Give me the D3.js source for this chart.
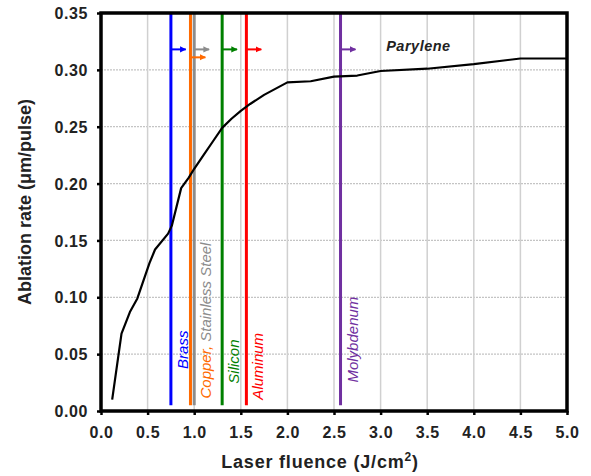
<!DOCTYPE html>
<html>
<head>
  <meta charset="utf-8">
  <title>Ablation rate vs laser fluence</title>
  <script src="https://d3js.org/d3.v7.min.js"></script>
  <style>
    body { margin: 0; background: #fff; font-family: "Liberation Sans", Arial, sans-serif; }
    .tick text { font-size: 16px; font-weight: bold; letter-spacing: 0.6px; fill: #222; }
    .title { font-size: 18px; font-weight: bold; fill: #222; }
  </style>
</head>
<body>
  <svg width="591" height="476"></svg>
  <script>
    // Parylene curve
    var fluence = [0.12, 0.22, 0.31, 0.39, 0.52, 0.58, 0.72, 0.76, 0.86, 0.94, 1.0, 1.1, 1.2, 1.3, 1.4, 1.5, 1.6, 1.75, 2.0, 2.25, 2.5, 2.75, 3.0, 3.5, 4.0, 4.5, 5.0];
    var rate    = [0.010, 0.068, 0.087, 0.099, 0.130, 0.142, 0.156, 0.163, 0.196, 0.205, 0.213, 0.225, 0.237, 0.249, 0.257, 0.264, 0.270, 0.278, 0.289, 0.290, 0.294, 0.295, 0.299, 0.301, 0.305, 0.310, 0.310];

    // threshold fluence for each material
    var materials = ["Brass", "Copper", "Stainless Steel", "Silicon", "Aluminum", "Molybdenum"];
    var thresholds = [0.75, 0.96, 1.0, 1.30, 1.56, 2.57];
    var colors = ["#0000ff", "#ff6a00", "#8c8c8c", "#008000", "#ff0000", "#7030a0"];
    var arrowY = [0.318, 0.311, 0.318, 0.318, 0.318, 0.318];

    // rotated labels: text pieces, which line they sit beside, bottom value
    var labelParts = [["Brass"], ["Copper,", " Stainless Steel"], ["Silicon"], ["Aluminum"], ["Molybdenum"]];
    var labelColors = [["#0000ff"], ["#ff6a00", "#8c8c8c"], ["#008000"], ["#ff0000"], ["#7030a0"]];
    var labelLine = [0, 2, 3, 4, 5];
    var labelBottom = [0.037, 0.011, 0.024, 0.010, 0.025];

    var xTicks = d3.range(0, 5.01, 0.5);
    var yTicks = d3.range(0, 0.351, 0.05);

    var margin = {top: 13, right: 24, bottom: 65, left: 101},
        width = 591 - margin.left - margin.right,
        height = 476 - margin.top - margin.bottom;

    var x = d3.scaleLinear().domain([0, 5]).range([0, width]);
    var y = d3.scaleLinear().domain([0, 0.35]).range([height, 0]);

    var svg = d3.select("svg")
      .append("g")
        .attr("transform", "translate(" + margin.left + "," + margin.top + ")");

    // grid
    svg.append("g").selectAll("line")
        .data(yTicks.slice(1, -1))
      .enter().append("line")
        .attr("x1", 0).attr("x2", width)
        .attr("y1", function(d) { return y(d); })
        .attr("y2", function(d) { return y(d); })
        .attr("stroke", "#c4c4c4").attr("stroke-width", 1.2)
        .attr("stroke-dasharray", "2,1");

    svg.append("g").selectAll("line")
        .data(xTicks.slice(1, -1))
      .enter().append("line")
        .attr("x1", function(d) { return x(d); })
        .attr("x2", function(d) { return x(d); })
        .attr("y1", 0).attr("y2", height)
        .attr("stroke", "#d0d0d0").attr("stroke-width", 1.5);

    // axes
    var xAxis = svg.append("g")
        .attr("transform", "translate(0," + height + ")")
        .call(d3.axisBottom(x).tickValues(xTicks).tickFormat(d3.format(".1f")).tickSize(4).tickPadding(12));
    var yAxis = svg.append("g")
        .call(d3.axisLeft(y).tickValues(yTicks).tickFormat(d3.format(".2f")).tickSize(4).tickPadding(9));
    [xAxis, yAxis].forEach(function(a) {
      a.select(".domain").remove();
      a.selectAll(".tick line").attr("stroke", "#000").attr("stroke-width", 2.5);
    });
    yAxis.selectAll(".tick text").attr("dy", "0.35em");

    // material threshold lines
    var mats = materials.map(function(m, i) {
      return {name: m, x: thresholds[i], color: colors[i], ay: arrowY[i]};
    });

    var defs = svg.append("defs");
    mats.forEach(function(m, i) {
      defs.append("marker")
          .attr("id", "arrow" + i)
          .attr("viewBox", "0 0 10 10")
          .attr("refX", 9).attr("refY", 5)
          .attr("markerWidth", 3.2).attr("markerHeight", 3.2)
          .attr("orient", "auto")
        .append("path")
          .attr("d", "M0,0L10,5L0,10z")
          .attr("fill", m.color);
    });

    svg.append("g").selectAll("line")
        .data(mats)
      .enter().append("line")
        .attr("x1", function(d) { return x(d.x); })
        .attr("x2", function(d) { return x(d.x); })
        .attr("y1", y(0.35)).attr("y2", y(0.005))
        .attr("stroke", function(d) { return d.color; })
        .attr("stroke-width", 3);

    svg.append("g").selectAll("line")
        .data(mats)
      .enter().append("line")
        .attr("x1", function(d) { return x(d.x); })
        .attr("x2", function(d) { return x(d.x + 0.16); })
        .attr("y1", function(d) { return y(d.ay); })
        .attr("y2", function(d) { return y(d.ay); })
        .attr("stroke", function(d) { return d.color; })
        .attr("stroke-width", 2)
        .attr("marker-end", function(d, i) { return "url(#arrow" + i + ")"; });

    // rotated labels
    labelParts.forEach(function(parts, i) {
      var lx = x(thresholds[labelLine[i]]) + 17;
      var ly = y(labelBottom[i]);
      var t = svg.append("text")
          .attr("transform", "translate(" + lx + "," + ly + ") rotate(-90)")
          .attr("font-size", "15px")
          .attr("font-style", "italic");
      parts.forEach(function(p, j) {
        t.append("tspan").text(p).attr("fill", labelColors[i][j]).attr("xml:space", "preserve");
      });
    });

    // parylene curve
    var pts = fluence.map(function(f, i) { return [f, rate[i]]; });
    svg.append("path")
        .datum(pts)
        .attr("fill", "none")
        .attr("stroke", "#000")
        .attr("stroke-width", 2.2)
        .attr("stroke-linejoin", "round")
        .attr("d", d3.line()
          .x(function(d) { return x(d[0]); })
          .y(function(d) { return y(d[1]); }));

    svg.append("text")
        .attr("x", x(3.06)).attr("y", y(0.3165))
        .attr("font-size", "14.5px")
        .attr("font-weight", "bold")
        .attr("font-style", "italic")
        .attr("letter-spacing", "0.5px")
        .attr("fill", "#222")
        .text("Parylene");

    // frame
    svg.append("rect")
        .attr("width", width).attr("height", height)
        .attr("fill", "none").attr("stroke", "#000").attr("stroke-width", 3.5);

    // axis titles
    var xt = svg.append("text")
        .attr("class", "title")
        .attr("x", 219).attr("y", 455)
        .attr("text-anchor", "middle")
        .attr("letter-spacing", "0.8px")
        .text("Laser fluence (J/cm");
    xt.append("tspan").attr("dy", -7).attr("font-size", "12px").text("2");
    xt.append("tspan").attr("dy", 7).text(")");

    svg.append("text")
        .attr("class", "title")
        .attr("transform", "translate(-70," + (height / 2 - 10) + ") rotate(-90)")
        .attr("text-anchor", "middle")
        .text("Ablation rate (\u03bcm/pulse)");
  </script>
</body>
</html>
